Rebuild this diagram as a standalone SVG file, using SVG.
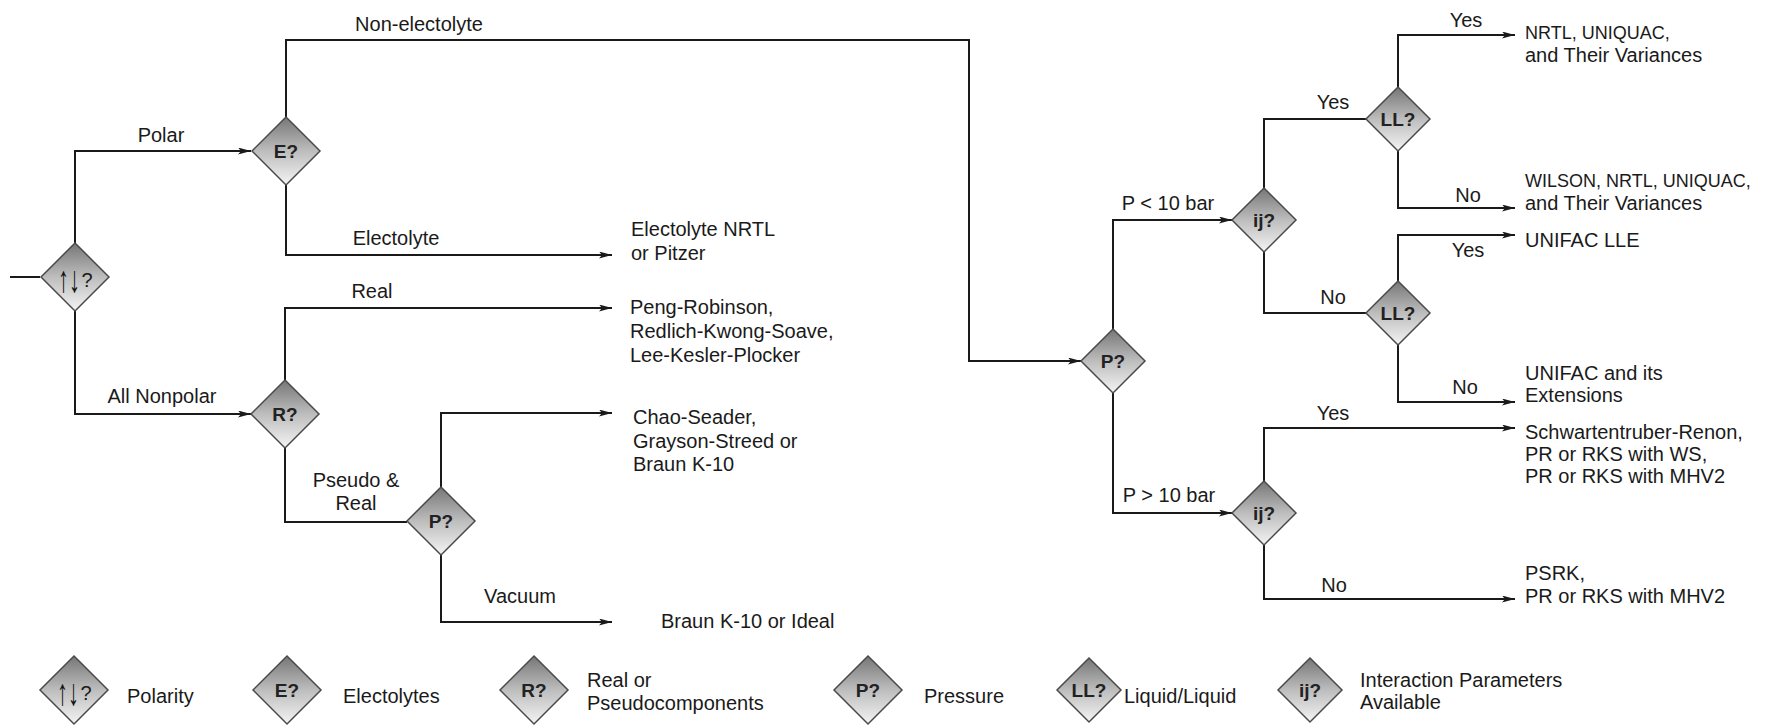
<svg xmlns="http://www.w3.org/2000/svg" width="1767" height="727" viewBox="0 0 1767 727">
<defs>
<linearGradient id="dg" x1="0" y1="0" x2="0" y2="1">
<stop offset="0" stop-color="#767676"/>
<stop offset="0.5" stop-color="#bdbdbd"/>
<stop offset="1" stop-color="#f4f4f4"/>
</linearGradient>
<marker id="ah" markerUnits="userSpaceOnUse" markerWidth="14" markerHeight="8" refX="13" refY="3.5" orient="auto">
<path d="M0,0 L13,3.5 L0,7 L3,3.5 z" fill="#1a1a1a"/>
</marker>
<path id="dia" d="M0,-34 L34,0 L0,34 L-34,0 Z"/>
<path id="dia2" d="M0,-32 L32,0 L0,32 L-32,0 Z"/>
</defs>
<style>
.ln{fill:none;stroke:#1a1a1a;stroke-width:2}
.ar{marker-end:url(#ah)}
.d{fill:url(#dg);stroke:#4a4a4a;stroke-width:1.5}
.t{font-family:"Liberation Sans",Arial,sans-serif;font-size:20px;fill:#1a1a1a}
.m{text-anchor:middle}
.q{font-family:"Liberation Sans",Arial,sans-serif;font-size:19px;font-weight:bold;fill:#222;text-anchor:middle}
.pa{font-family:"Liberation Sans",Arial,sans-serif;font-size:22px;fill:#111;text-anchor:middle;font-weight:bold}
</style>
<rect width="1767" height="727" fill="#fff"/>

<g id="connectors">
<path class="ln" d="M10,277 H40"/>
<path class="ln ar" d="M75,243 V151 H251"/>
<path class="ln ar" d="M75,311 V414 H251"/>
<path class="ln ar" d="M286,117 V40 H969 V361 H1081"/>
<path class="ln ar" d="M286,185 V255 H612"/>
<path class="ln ar" d="M285,380 V308 H612"/>
<path class="ln" d="M285,448 V522 H407"/>
<path class="ln ar" d="M441,487 V413 H612"/>
<path class="ln ar" d="M441,555 V622 H612"/>
<path class="ln ar" d="M1113,329 V220 H1232"/>
<path class="ln ar" d="M1113,393 V513 H1232"/>
<path class="ln" d="M1264,188 V119 H1366"/>
<path class="ln" d="M1264,252 V313 H1366"/>
<path class="ln ar" d="M1398,87 V35 H1515"/>
<path class="ln ar" d="M1398,151 V208 H1515"/>
<path class="ln ar" d="M1398,281 V235 H1515"/>
<path class="ln ar" d="M1398,345 V402 H1515"/>
<path class="ln ar" d="M1264,481 V428 H1515"/>
<path class="ln ar" d="M1264,545 V599 H1515"/>
<g class="t m">
<text x="419" y="31">Non-electolyte</text>
<text x="161" y="142">Polar</text>
<text x="396" y="245">Electolyte</text>
<text x="372" y="298">Real</text>
<text x="162" y="403">All Nonpolar</text>
<text x="356" y="487">Pseudo &amp;</text>
<text x="356" y="510">Real</text>
<text x="520" y="603">Vacuum</text>
<text x="1168" y="210">P &lt; 10 bar</text>
<text x="1169" y="502">P &gt; 10 bar</text>
<text x="1333" y="109">Yes</text>
<text x="1333" y="304">No</text>
<text x="1466" y="27">Yes</text>
<text x="1468" y="202">No</text>
<text x="1468" y="257">Yes</text>
<text x="1465" y="394">No</text>
<text x="1333" y="420">Yes</text>
<text x="1334" y="592">No</text>
</g>
</g>

<g id="n-polarity">
<use href="#dia" x="75" y="277" class="d"/>
<text class="pa" transform="translate(69,292) scale(1,1.7)">↑↓</text>
<text x="87" y="287" class="t m" font-size="18">?</text>
</g>
<g id="n-electrolytes">
<use href="#dia" x="286" y="151" class="d"/>
<text x="286" y="158" class="q">E?</text>
</g>
<g id="n-real">
<use href="#dia" x="285" y="414" class="d"/>
<text x="285" y="421" class="q">R?</text>
</g>
<g id="n-pressure1">
<use href="#dia" x="441" y="521" class="d"/>
<text x="441" y="528" class="q">P?</text>
</g>
<g id="n-pressure2">
<use href="#dia2" x="1113" y="361" class="d"/>
<text x="1113" y="368" class="q">P?</text>
</g>
<g id="n-ij1">
<use href="#dia2" x="1264" y="220" class="d"/>
<text x="1264" y="227" class="q">ij?</text>
</g>
<g id="n-ij2">
<use href="#dia2" x="1264" y="513" class="d"/>
<text x="1264" y="520" class="q">ij?</text>
</g>
<g id="n-ll1">
<use href="#dia2" x="1398" y="119" class="d"/>
<text x="1398" y="126" class="q">LL?</text>
</g>
<g id="n-ll2">
<use href="#dia2" x="1398" y="313" class="d"/>
<text x="1398" y="320" class="q">LL?</text>
</g>

<g id="r-electrolyte" class="t"><text x="631" y="236">Electolyte NRTL</text><text x="631" y="260">or Pitzer</text></g>
<g id="r-eos" class="t"><text x="630" y="314">Peng-Robinson,</text><text x="630" y="338">Redlich-Kwong-Soave,</text><text x="630" y="362">Lee-Kesler-Plocker</text></g>
<g id="r-chao" class="t"><text x="633" y="424">Chao-Seader,</text><text x="633" y="448">Grayson-Streed or</text><text x="633" y="471">Braun K-10</text></g>
<g id="r-braun" class="t"><text x="661" y="628">Braun K-10 or Ideal</text></g>
<g id="r-nrtl" class="t"><text x="1525" y="39" font-size="18">NRTL, UNIQUAC,</text><text x="1525" y="62">and Their Variances</text></g>
<g id="r-wilson" class="t"><text x="1525" y="187" font-size="18">WILSON, NRTL, UNIQUAC,</text><text x="1525" y="210">and Their Variances</text></g>
<g id="r-unifaclle" class="t"><text x="1525" y="247">UNIFAC LLE</text></g>
<g id="r-unifac" class="t"><text x="1525" y="380">UNIFAC and its</text><text x="1525" y="402">Extensions</text></g>
<g id="r-schwartentruber" class="t"><text x="1525" y="439">Schwartentruber-Renon,</text><text x="1525" y="461">PR or RKS with WS,</text><text x="1525" y="483">PR or RKS with MHV2</text></g>
<g id="r-psrk" class="t"><text x="1525" y="580">PSRK,</text><text x="1525" y="603">PR or RKS with MHV2</text></g>

<g id="legend">
<g id="l-polarity"><use href="#dia" x="74" y="690" class="d"/><text class="pa" transform="translate(68,705) scale(1,1.7)">↑↓</text><text x="86" y="700" class="t m" font-size="18">?</text><text x="127" y="703" class="t">Polarity</text></g>
<g id="l-electrolytes"><use href="#dia" x="287" y="690" class="d"/><text x="287" y="697" class="q">E?</text><text x="343" y="703" class="t">Electolytes</text></g>
<g id="l-real"><use href="#dia" x="534" y="690" class="d"/><text x="534" y="697" class="q">R?</text><text x="587" y="687" class="t">Real or</text><text x="587" y="710" class="t">Pseudocomponents</text></g>
<g id="l-pressure"><use href="#dia" x="868" y="690" class="d"/><text x="868" y="697" class="q">P?</text><text x="924" y="703" class="t">Pressure</text></g>
<g id="l-ll"><use href="#dia2" x="1089" y="690" class="d"/><text x="1089" y="697" class="q">LL?</text><text x="1124" y="703" class="t">Liquid/Liquid</text></g>
<g id="l-ij"><use href="#dia2" x="1310" y="690" class="d"/><text x="1310" y="697" class="q">ij?</text><text x="1360" y="687" class="t">Interaction Parameters</text><text x="1360" y="709" class="t">Available</text></g>
</g>
</svg>
